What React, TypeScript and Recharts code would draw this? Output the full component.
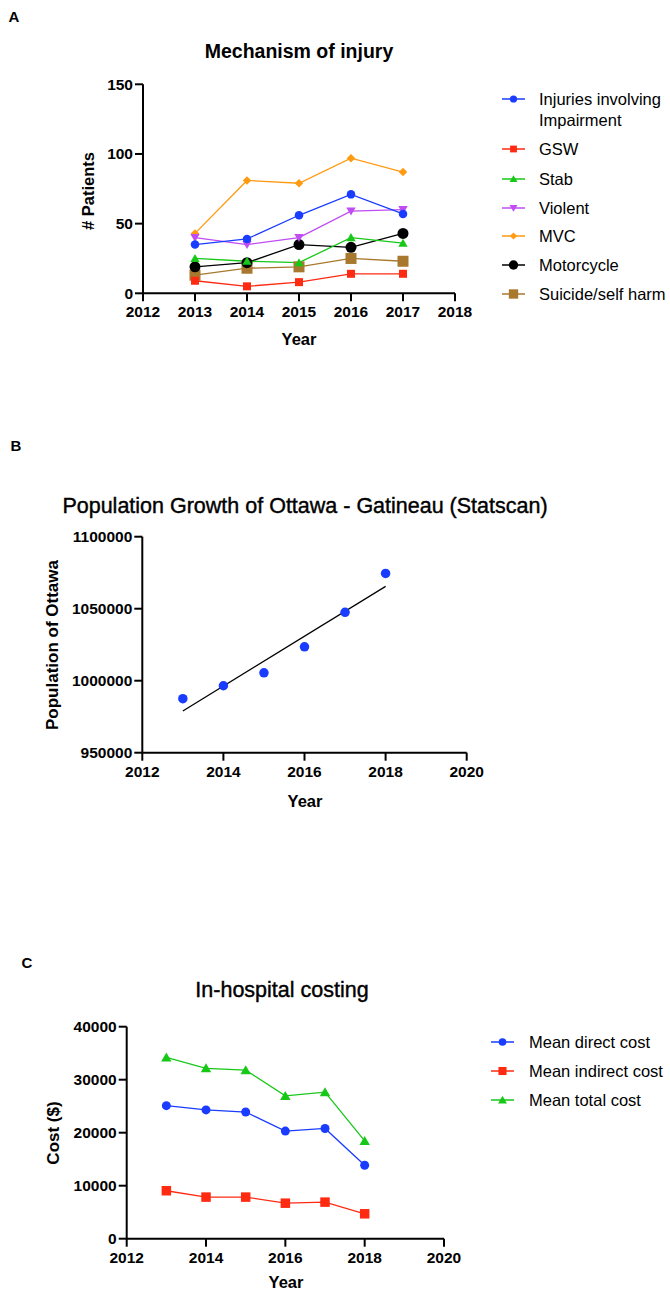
import React from 'react';
import { LineChart, Line, XAxis, YAxis, ScatterChart, Scatter } from 'recharts';

// ---------- Panel A: Mechanism of injury ----------
const injuryYears = [2013, 2014, 2015, 2016, 2017];
const impairment = [35, 39, 56, 71, 57];
const gsw = [9, 5, 8, 14, 14];
const stab = [25, 23, 22, 40, 36];
const violent = [40, 35, 40, 59, 60];
const mvc = [43, 81, 79, 97, 87];
const motorcycle = [19, 22, 35, 33, 43];
const suicide = [13, 18, 19, 25, 23];
const injuryXTicks = [2012, 2013, 2014, 2015, 2016, 2017, 2018];
const injuryYTicks = [0, 50, 100, 150];

// ---------- Panel B: Population ----------
const popYears = [2013, 2014, 2015, 2016, 2017, 2018];
const population = [987500, 996500, 1005500, 1023500, 1047500, 1074500];
const fitYears = [2013, 2018];
const fitPopulation = [979000, 1065500];
const popXTicks = [2012, 2014, 2016, 2018, 2020];
const popYTicks = [950000, 1000000, 1050000, 1100000];

// ---------- Panel C: In-hospital costing ----------
const costYears = [2013, 2014, 2015, 2016, 2017, 2018];
const directCost = [25100, 24300, 23900, 20300, 20800, 13850];
const indirectCost = [9050, 7850, 7850, 6700, 6900, 4700];
const totalCost = [34200, 32150, 31800, 26950, 27650, 18450];
const costXTicks = [2012, 2014, 2016, 2018, 2020];
const costYTicks = [0, 10000, 20000, 30000, 40000];

const FONT = '"Liberation Sans", Arial, sans-serif';

const BLUE = '#1a3cff';
const RED = '#ff2a12';
const GREEN = '#18c818';
const VIOLET = '#c04cf2';
const ORANGE = '#ff9a12';
const BLACK = '#000000';
const BROWN = '#a8782e';

type Shape = 'circle' | 'square' | 'triangle' | 'triangleDown' | 'diamond';

function Marker({ cx, cy, shape, size, color }: { cx: number; cy: number; shape: Shape; size: number; color: string }) {
  if (cx == null || cy == null || isNaN(cx) || isNaN(cy)) return <g />;
  const h = size / 2;
  if (shape === 'circle') return <circle cx={cx} cy={cy} r={h} fill={color} />;
  if (shape === 'square') return <rect x={cx - h} y={cy - h} width={size} height={size} fill={color} />;
  if (shape === 'triangle')
    return <polygon points={`${cx},${cy - h * 1.05} ${cx + h * 1.1},${cy + h * 0.85} ${cx - h * 1.1},${cy + h * 0.85}`} fill={color} />;
  if (shape === 'triangleDown')
    return <polygon points={`${cx},${cy + h * 1.05} ${cx + h * 1.1},${cy - h * 0.85} ${cx - h * 1.1},${cy - h * 0.85}`} fill={color} />;
  return <polygon points={`${cx},${cy - h} ${cx + h},${cy} ${cx},${cy + h} ${cx - h},${cy}`} fill={color} />;
}

const injurySeries = [
  { key: 'impairment', values: impairment, color: BLUE, shape: 'circle' as Shape, size: 8.5, label: ['Injuries involving', 'Impairment'] },
  { key: 'gsw', values: gsw, color: RED, shape: 'square' as Shape, size: 8, label: ['GSW'] },
  { key: 'stab', values: stab, color: GREEN, shape: 'triangle' as Shape, size: 8.5, label: ['Stab'] },
  { key: 'violent', values: violent, color: VIOLET, shape: 'triangleDown' as Shape, size: 8.5, label: ['Violent'] },
  { key: 'mvc', values: mvc, color: ORANGE, shape: 'diamond' as Shape, size: 8.5, label: ['MVC'] },
  { key: 'motorcycle', values: motorcycle, color: BLACK, shape: 'circle' as Shape, size: 11, label: ['Motorcycle'] },
  { key: 'suicide', values: suicide, color: BROWN, shape: 'square' as Shape, size: 11, label: ['Suicide/self harm'] },
];

const injuryData = injuryYears.map((year, i) => {
  const row: any = { year };
  injurySeries.forEach((s) => (row[s.key] = s.values[i]));
  return row;
});

const costSeries = [
  { key: 'direct', values: directCost, color: BLUE, shape: 'circle' as Shape, size: 9, label: 'Mean direct cost' },
  { key: 'indirect', values: indirectCost, color: RED, shape: 'square' as Shape, size: 9.5, label: 'Mean indirect cost' },
  { key: 'total', values: totalCost, color: GREEN, shape: 'triangle' as Shape, size: 9.5, label: 'Mean total cost' },
];

const costData = costYears.map((year, i) => {
  const row: any = { year };
  costSeries.forEach((s) => (row[s.key] = s.values[i]));
  return row;
});

const popData = popYears.map((x, i) => ({ x, y: population[i] }));
const fitData = fitYears.map((x, i) => ({ x, y: fitPopulation[i] }));

const TICK_FS = 15.5;
const axisLineStyle = { stroke: '#000', strokeWidth: 2 };

const XTick = (p: any) => (
  <text
    x={p.x}
    y={p.y}
    dy="0.71em"
    textAnchor="middle"
    fill="#000"
    fontSize={TICK_FS}
    fontWeight={700}
    fontFamily={FONT}
  >
    {p.payload.value}
  </text>
);

const YTick = (p: any) => (
  <text
    x={p.x}
    y={p.y}
    dy="0.355em"
    textAnchor="end"
    fill="#000"
    fontSize={TICK_FS}
    fontWeight={700}
    fontFamily={FONT}
  >
    {p.payload.value}
  </text>
);

const axisCommon: any = {
  type: 'number',
  interval: 0,
  allowDataOverflow: true,
  axisLine: axisLineStyle,
  tickLine: axisLineStyle,
  tickSize: 8,
};

function Txt({ x, y, children, size, weight = 400, rotate = false, align = 'center', stroke = 0 }: any) {
  const transform =
    align === 'center' ? `translate(-50%, -50%)${rotate ? ' rotate(-90deg)' : ''}` : 'translate(0, -50%)';
  return (
    <div
      style={{
        position: 'absolute',
        left: x,
        top: y,
        transform,
        fontFamily: FONT,
        fontSize: size,
        fontWeight: weight,
        color: '#000',
        whiteSpace: 'nowrap',
        lineHeight: 1,
        WebkitTextStroke: stroke ? `${stroke}px #000` : undefined,
      }}
    >
      {children}
    </div>
  );
}

function LegendGlyph({ x, y, color, shape, size }: any) {
  return (
    <svg style={{ position: 'absolute', left: x - 13, top: y - 8 }} width={26} height={16}>
      <line x1={1} y1={8} x2={24} y2={8} stroke={color} strokeWidth={1.5} />
      <Marker cx={12.5} cy={8} shape={shape} size={size} color={color} />
    </svg>
  );
}

export default function App() {
  const legendARows = [99, 149, 179, 208, 236, 265, 294];
  const legendCRows = [1042, 1071, 1100];
  return (
    <div style={{ position: 'absolute', left: 0, top: 0, width: 670, height: 1292, background: '#fff', overflow: 'hidden' }}>
      {/* Panel A */}
      <Txt x={14} y={16} size={15} weight={700}>A</Txt>
      <Txt x={299} y={52} size={19.5} weight={700}>Mechanism of injury</Txt>
      <div style={{ position: 'absolute', left: 0, top: 0 }}>
        <LineChart width={670} height={360} data={injuryData} margin={{ top: 84.3, right: 215, bottom: 36.7, left: 83 }}>
          <XAxis {...axisCommon} dataKey="year" domain={[2012, 2018]} ticks={injuryXTicks} tickMargin={5} height={30} tick={XTick} />
          <YAxis {...axisCommon} domain={[0, 150]} ticks={injuryYTicks} tickMargin={2} width={60} tick={YTick} />
          {[...injurySeries].reverse().map((s) => (
            <Line
              key={s.key}
              dataKey={s.key}
              stroke={s.color}
              strokeWidth={1.3}
              isAnimationActive={false}
              dot={(p: any) => (
                <Marker key={`${s.key}-${p.index}`} cx={p.cx} cy={p.cy} shape={s.shape} size={s.size} color={s.color} />
              )}
              activeDot={false}
            />
          ))}
        </LineChart>
      </div>
      <Txt x={88} y={191} size={16.5} weight={700} rotate>
        # Patients
      </Txt>
      <Txt x={299} y={339} size={16.5} weight={700}>Year</Txt>
      {injurySeries.map((s, i) => (
        <React.Fragment key={s.key}>
          <LegendGlyph x={514} y={legendARows[i]} color={s.color} shape={s.shape} size={s.size * 0.85} />
          <Txt x={539} y={legendARows[i]} size={16.5} align="left">{s.label[0]}</Txt>
          {s.label[1] && (
            <Txt x={539} y={legendARows[i] + 21} size={16.5} align="left">{s.label[1]}</Txt>
          )}
        </React.Fragment>
      ))}

      {/* Panel B */}
      <Txt x={16} y={445} size={15} weight={700}>B</Txt>
      <Txt x={305} y={507} size={21.5} weight={400} stroke={0.4}>Population Growth of Ottawa - Gatineau (Statscan)</Txt>
      <div style={{ position: 'absolute', left: 0, top: 420 }}>
        <ScatterChart width={670} height={400} margin={{ top: 116.7, right: 203.3, bottom: 37.3, left: 62.3 }}>
          <XAxis {...axisCommon} dataKey="x" domain={[2012, 2020]} ticks={popXTicks} tickMargin={5} height={30} tick={XTick} />
          <YAxis {...axisCommon} dataKey="y" domain={[950000, 1100000]} ticks={popYTicks} tickMargin={2} width={80} tick={YTick} />
          <Scatter
            data={fitData}
            isAnimationActive={false}
            line={{ stroke: '#000', strokeWidth: 1.2 }}
            shape={() => <g />}
          />
          <Scatter
            data={popData}
            isAnimationActive={false}
            shape={(p: any) => <Marker cx={p.cx} cy={p.cy} shape="circle" size={9.5} color={BLUE} />}
          />
        </ScatterChart>
      </div>
      <Txt x={52} y={645} size={17} weight={700} rotate>
        Population of Ottawa
      </Txt>
      <Txt x={305} y={801} size={16.5} weight={700}>Year</Txt>

      {/* Panel C */}
      <Txt x={27} y={962} size={15} weight={700}>C</Txt>
      <Txt x={282} y={991} size={21.5} weight={400} stroke={0.4}>In-hospital costing</Txt>
      <div style={{ position: 'absolute', left: 0, top: 940 }}>
        <LineChart width={670} height={352} data={costData} margin={{ top: 86.7, right: 226, bottom: 23.3, left: 56.7 }}>
          <XAxis {...axisCommon} dataKey="year" domain={[2012, 2020]} ticks={costXTicks} tickMargin={5} height={30} tick={XTick} />
          <YAxis {...axisCommon} domain={[0, 40000]} ticks={costYTicks} tickMargin={2} width={70} tick={YTick} />
          {costSeries.map((s) => (
            <Line
              key={s.key}
              dataKey={s.key}
              stroke={s.color}
              strokeWidth={1.3}
              isAnimationActive={false}
              dot={(p: any) => (
                <Marker key={`${s.key}-${p.index}`} cx={p.cx} cy={p.cy} shape={s.shape} size={s.size} color={s.color} />
              )}
              activeDot={false}
            />
          ))}
        </LineChart>
      </div>
      <Txt x={53} y={1133} size={17} weight={700} rotate>
        Cost ($)
      </Txt>
      <Txt x={286} y={1282} size={16.5} weight={700}>Year</Txt>
      {costSeries.map((s, i) => (
        <React.Fragment key={s.key}>
          <LegendGlyph x={503} y={legendCRows[i]} color={s.color} shape={s.shape} size={s.size * 0.85} />
          <Txt x={529} y={legendCRows[i]} size={16.5} align="left">{s.label}</Txt>
        </React.Fragment>
      ))}
    </div>
  );
}
